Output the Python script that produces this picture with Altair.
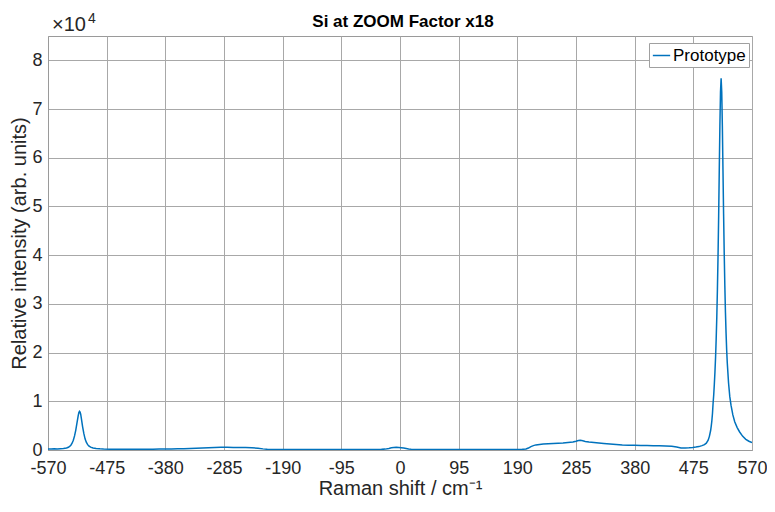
import altair as alt
import pandas as pd

# ---- data (Raman shift in cm^-1, intensity in counts) ----
shift = [
    -570, -565, -560, -555, -550, -545, -540, -537, -535, -533, -531, -529, -527, -525,
    -523, -521, -520, -519, -518, -517, -516, -514, -512, -510, -508, -506, -504, -501,
    -497, -492, -486, -480, -470, -460, -450, -440, -430, -420, -410, -400, -390, -380,
    -370, -360, -350, -340, -330, -320, -310, -300, -290, -280, -270, -260, -250, -240,
    -230, -222, -215, -205, -195, -185, -170, -155, -140, -125, -110, -95, -80, -65,
    -50, -40, -30, -24, -18, -14, -10, -6, -2, 2, 6, 10, 14, 18, 24, 30, 40, 55, 70,
    85, 100, 115, 130, 145, 160, 175, 190, 198, 204, 208, 212, 216, 220, 226, 232, 240,
    248, 256, 264, 272, 280, 285, 289, 292, 296, 300, 306, 314, 322, 330, 340, 350, 360,
    370, 380, 390, 400, 410, 420, 430, 440, 448, 455, 462, 468, 474, 479, 484, 489, 493,
    496, 499, 501, 503, 504, 505, 506, 507, 508, 509, 510, 511, 512, 513, 514, 515, 516,
    517, 518, 519, 520, 521, 522, 523, 524, 525, 526, 527, 528, 529, 530, 532, 534, 536,
    539, 542, 546, 550, 555, 560, 565, 570,
]
intensity = [
    220, 200, 240, 230, 280, 320, 420, 560, 720, 980, 1400, 2000, 2900, 4100,
    5600, 7100, 7700, 7950, 7800, 7300, 6500, 4800, 3400, 2300, 1600, 1150, 850, 580,
    400, 300, 240, 200, 170, 150, 160, 130, 150, 140, 170, 160, 180, 200,
    230, 260, 280, 330, 380, 420, 460, 520, 560, 540, 520, 500, 490, 440,
    380, 230, 140, 110, 100, 90, 100, 90, 100, 110, 100, 110, 100, 120,
    110, 120, 130, 180, 320, 450, 520, 540, 500, 470, 420, 330, 220, 150, 120, 110, 100, 110, 100,
    110, 100, 110, 100, 120, 110, 120, 120, 140, 200, 400, 700, 900, 1050, 1150, 1250, 1300,
    1350, 1400, 1450, 1550, 1650, 1800, 1950, 2000, 1900, 1750, 1650, 1550, 1450, 1350, 1250, 1150, 1050,
    1000, 950, 920, 900, 880, 850, 820, 750, 620, 420, 400, 450, 520, 600, 700, 900, 1100,
    1400, 2000, 2800, 4000, 4900, 6000, 7500, 9600, 11300, 13500, 16000, 19000, 22800, 27300, 33000, 39800, 48000,
    57500, 66500, 73500, 76300, 73500, 66500, 57500, 48500, 40500, 33800, 28300, 24000, 20500, 17800, 13800, 11000, 9200,
    7200, 5800, 4600, 3700, 2800, 2200, 1800, 1500,
]
series_name = "Prototype"
chart_title = "Si at ZOOM Factor x18"

x_ticks = [-570, -475, -380, -285, -190, -95, 0, 95, 190, 285, 380, 475, 570]
y_ticks = [0, 1, 2, 3, 4, 5, 6, 7, 8]

df = pd.DataFrame({
    "shift": shift,
    "intensity": [v / 1e4 for v in intensity],
    "series": series_name,
})

FONT = "Liberation Sans"
TXT = "#262626"
BLUE = "#0072BD"

line = alt.Chart(df).mark_line(strokeWidth=1.5, clip=True).encode(
    x=alt.X(
        "shift:Q",
        scale=alt.Scale(domain=[-570, 570], nice=False, zero=False),
        axis=alt.Axis(values=x_ticks, title="Raman shift / cm⁻¹",
                      labelExpr="datum.value < 0 ? '-' + abs(datum.value) : '' + datum.value",
                      labelOverlap=False, labelFlush=False, labelBound=False,
                      labelPadding=9, titlePadding=1, ticks=False),
    ),
    y=alt.Y(
        "intensity:Q",
        scale=alt.Scale(domain=[0, 8.5], nice=False),
        axis=alt.Axis(values=y_ticks, format="d", title="Relative intensity (arb. units)",
                      labelOverlap=False, labelFlush=False,
                      labelPadding=6, titlePadding=2, ticks=False),
    ),
    color=alt.Color(
        "series:N",
        scale=alt.Scale(domain=[series_name], range=[BLUE]),
        legend=alt.Legend(
            title=None, orient="none", legendX=601, legendY=7,
            fillColor="white", strokeColor="#a0a0a0", padding=3, cornerRadius=0,
            symbolType="stroke", symbolSize=300, symbolStrokeWidth=1.5,
            labelFontSize=17, labelFont=FONT, labelColor="#000000", labelOffset=2,
        ),
    ),
)

title_txt = alt.Chart(pd.DataFrame({"t": [chart_title]})).mark_text(
    align="center", baseline="alphabetic", fontSize=17, fontWeight="bold", font=FONT, color="#000000"
).encode(text="t:N", x=alt.value(355), y=alt.value(-9))

exp_base = alt.Chart(pd.DataFrame({"t": ["×10"]})).mark_text(
    align="left", baseline="alphabetic", fontSize=20, font=FONT, color=TXT
).encode(text="t:N", x=alt.value(4), y=alt.value(-5))

exp_sup = alt.Chart(pd.DataFrame({"t": ["4"]})).mark_text(
    align="left", baseline="alphabetic", fontSize=14, font=FONT, color=TXT
).encode(text="t:N", x=alt.value(40), y=alt.value(-13))

chart = alt.layer(line, title_txt, exp_base, exp_sup).properties(
    width=704,
    height=414,
    autosize=alt.AutoSizeParams(type="none"),
    padding={"left": 40, "top": 28, "right": 15, "bottom": 54},
).configure_view(
    stroke="#9a9a9a", strokeWidth=1
).configure_axis(
    labelFont=FONT, titleFont=FONT, labelFontSize=18, titleFontSize=20,
    labelColor=TXT, titleColor=TXT, titleFontWeight="normal",
    gridColor="#a8a8a8", gridOpacity=1, gridWidth=1,
    domainColor="#9a9a9a", domainWidth=1,
)

chart.save("out.html", embed_options={"renderer": "svg", "actions": False})
